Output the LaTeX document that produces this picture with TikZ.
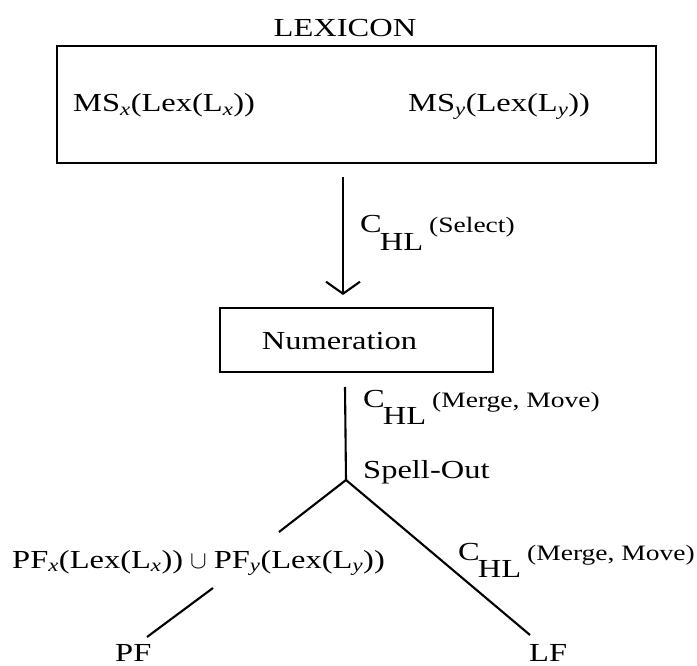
\documentclass[tikz,border=0pt]{standalone}
\usepackage{fontspec}
\setmainfont{Liberation Serif}[FakeStretch=1.25]
\usetikzlibrary{arrows.meta}
\newcommand\chl[1]{C\kern-2pt\raisebox{-0.68em}{HL}\kern6pt{\fontsize{22}{24}\selectfont #1}}
\begin{document}
\begin{tikzpicture}[x=1pt,y=-1pt,
  txt/.style={inner sep=0pt,font=\fontsize{26}{30}\selectfont},
  boxnode/.style={draw,line width=2.1pt,inner sep=0pt},
  ln/.style={line width=2.1pt},
  arr/.style={line width=2.1pt,-{Straight Barb[length=12pt,width=34pt,line width=2.1pt]}}]
\useasboundingbox (0,0) rectangle (697,666);
% Lexicon
\node[txt,anchor=base] (lexicon) at (345,37) {LEXICON};
\node[boxnode,minimum width=599pt,minimum height=117pt] (lexbox) at (356.5,104.5) {};
\node[txt,anchor=base west] (msx) at (73,112) {MS\textsubscript{\textit{x}}(Lex(L\textsubscript{\textit{x}}))};
\node[txt,anchor=base west] (msy) at (408,112) {MS\textsubscript{\textit{y}}(Lex(L\textsubscript{\textit{y}}))};
% select arrow
\coordinate (a1) at (343,177);
\coordinate (a2) at (343,295);
\draw[arr] (a1) -- (a2);
\node[txt,anchor=base west] (sel) at (360,233) {\chl{(Select)}};
% numeration
\node[boxnode,minimum width=273pt,minimum height=64pt] (numbox) at (356.5,340) {};
\node[txt,anchor=base] (num) at (339.5,349) {Numeration};
% merge/move
\coordinate (m1) at (345,387);
\coordinate (sp) at (346,480);
\draw[ln] (m1) -- (sp);
\node[txt,anchor=base west] (mm1) at (363,407) {\chl{(Merge, Move)}};
\node[txt,anchor=base west] (spell) at (363,478) {Spell-Out};
% branches
\coordinate (lb) at (279,532);
\coordinate (rb) at (530,635);
\draw[ln] (sp) -- (lb);
\draw[ln] (sp) -- (rb);
\node[txt,anchor=base west] (pfx) at (12,568) {PF\textsubscript{\textit{x}}(Lex(L\textsubscript{\textit{x}}))\kern7pt$\cup$\kern7pt PF\textsubscript{\textit{y}}(Lex(L\textsubscript{\textit{y}}))};
\node[txt,anchor=base west] (mm2) at (458,560) {\chl{(Merge, Move)}};
\coordinate (p1) at (213,588);
\coordinate (p2) at (147,637);
\draw[ln] (p1) -- (p2);
\node[txt,anchor=base west] (pf) at (115,661) {PF};
\node[txt,anchor=base west] (lf) at (529,661) {LF};
\end{tikzpicture}
\end{document}
